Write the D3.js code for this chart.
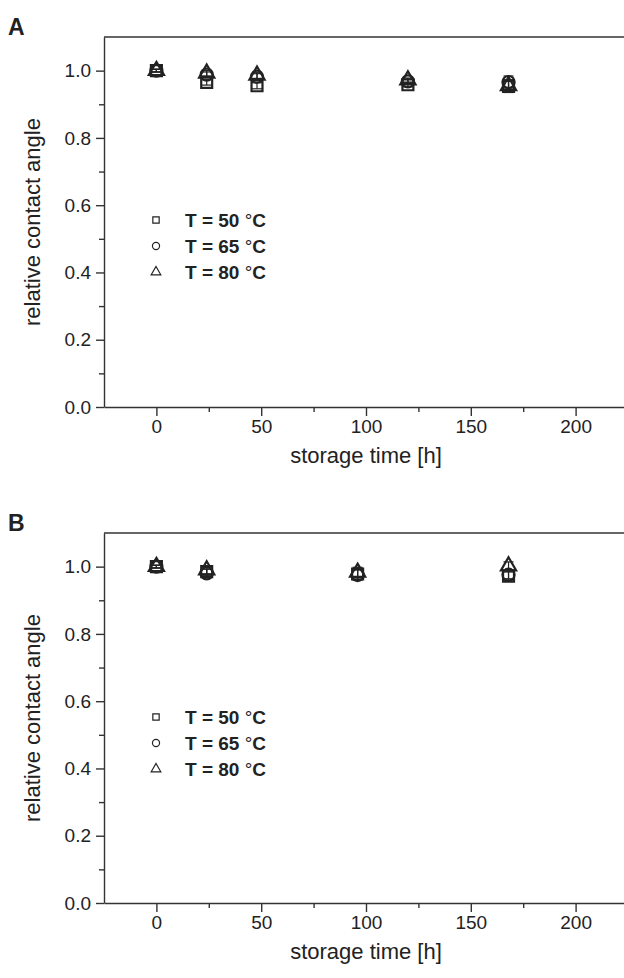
<!DOCTYPE html>
<html>
<head>
<meta charset="utf-8">
<script src="https://cdn.jsdelivr.net/npm/d3@7"></script>
<style>
  body { margin: 0; background: #fff; }
  svg { display: block; font-family: "Liberation Sans", Arial, sans-serif; }
</style>
</head>
<body>
<div id="chart"></div>
<script>
// panel A data
var timeA = [0, 24, 48, 120, 168];
var t50A = [1.0, 0.965, 0.955, 0.958, 0.953];
var t65A = [1.0, 0.988, 0.982, 0.968, 0.966];
var t80A = [1.0, 0.992, 0.986, 0.972, 0.955];
var errA = [0.004, 0.008, 0.009, 0.006, 0.018];

// panel B data
var timeB = [0, 24, 96, 168];
var t50B = [1.0, 0.985, 0.978, 0.972];
var t65B = [1.0, 0.980, 0.975, 0.976];
var t80B = [1.0, 0.990, 0.983, 1.002];
var errB = [0.004, 0.012, 0.015, 0.012];

var legendLabels = ["50", "65", "80"];
var xTicks = [0, 50, 100, 150, 200];
var yTicks = [0.0, 0.2, 0.4, 0.6, 0.8, 1.0];

var svgWidth = 624;
var svgHeight = 978;
var ink = "#222";

var svg = d3.select("#chart")
  .append("svg")
  .attr("width", svgWidth)
  .attr("height", svgHeight);

var symbols = [d3.symbolSquare, d3.symbolCircle, d3.symbolTriangle];
var symSize = [120, 115, 100];

function drawPanel(top, letter, time, series, err, legendTop) {
  var plotLeft = 104, plotTop = 37, plotBottom = 407;

  var g = svg.append("g")
    .attr("transform", `translate(0, ${top})`);

  // plot runs past the right edge of the picture (cropped like the original)
  var x = d3.scaleLinear().domain([-25, 225]).range([plotLeft, plotLeft + 524]);
  var y = d3.scaleLinear().domain([0, 1.1]).range([plotBottom, plotTop]);

  // panel letter
  g.append("text")
    .attr("x", 8)
    .attr("y", 35)
    .attr("font-size", "23px")
    .attr("font-weight", "bold")
    .attr("fill", ink)
    .text(letter);

  // minor ticks
  g.append("g")
    .attr("transform", `translate(${plotLeft}, 0)`)
    .call(d3.axisLeft(y).tickValues(d3.range(0.1, 1.01, 0.2)).tickSize(5).tickFormat(""))
    .call(a => a.select(".domain").remove());
  g.append("g")
    .attr("transform", `translate(0, ${plotBottom})`)
    .call(d3.axisBottom(x).tickValues([25, 75, 125, 175]).tickSize(5).tickFormat(""))
    .call(a => a.select(".domain").remove());

  var leftAxis = g.append("g")
    .attr("transform", `translate(${plotLeft}, 0)`)
    .call(d3.axisLeft(y).tickValues(yTicks).tickSize(8).tickPadding(5).tickFormat(d3.format(".1f")).tickSizeOuter(0));

  var bottomAxis = g.append("g")
    .attr("transform", `translate(0, ${plotBottom})`)
    .call(d3.axisBottom(x).tickValues(xTicks).tickSize(9).tickPadding(4).tickSizeOuter(0));

  [leftAxis, bottomAxis].forEach(function(a) {
    a.selectAll("path, line").attr("stroke", "#333").attr("stroke-width", 1.4);
    a.selectAll("text").attr("font-size", "19px").attr("fill", ink)
      .attr("font-family", "Liberation Sans, Arial, sans-serif");
  });
  g.selectAll(".tick line").attr("stroke", "#333").attr("stroke-width", 1.4);

  // top frame line
  g.append("line")
    .attr("x1", plotLeft).attr("x2", svgWidth + 60)
    .attr("y1", plotTop).attr("y2", plotTop)
    .attr("stroke", "#333").attr("stroke-width", 1.4);

  // axis titles
  g.append("text")
    .attr("transform", "rotate(-90)")
    .attr("x", -(plotTop + plotBottom) / 2)
    .attr("y", 40)
    .attr("text-anchor", "middle")
    .attr("font-size", "22px")
    .attr("fill", ink)
    .text("relative contact angle");

  g.append("text")
    .attr("x", x(100))
    .attr("y", plotBottom + 56)
    .attr("text-anchor", "middle")
    .attr("font-size", "22px")
    .attr("fill", ink)
    .text("storage time [h]");

  // error bars + markers
  series.forEach(function(vals, si) {
    var pts = time.map((t, i) => ({t: t, v: vals[i], e: err[i]}));
    var eb = g.append("g");
    pts.forEach(function(p) {
      if (p.e <= 0) return;
      eb.append("line")
        .attr("x1", x(p.t)).attr("x2", x(p.t))
        .attr("y1", y(p.v - p.e)).attr("y2", y(p.v + p.e))
        .attr("stroke", ink).attr("stroke-width", 1.2);
      [p.v - p.e, p.v + p.e].forEach(function(ev) {
        eb.append("line")
          .attr("x1", x(p.t) - 5).attr("x2", x(p.t) + 5)
          .attr("y1", y(ev)).attr("y2", y(ev))
          .attr("stroke", ink).attr("stroke-width", 1.2);
      });
    });
    g.selectAll(null)
      .data(pts)
      .enter()
      .append("path")
      .attr("d", d3.symbol().type(symbols[si]).size(symSize[si]))
      .attr("transform", d => `translate(${x(d.t)}, ${y(d.v)})`)
      .attr("fill", "none")
      .attr("stroke", ink)
      .attr("stroke-width", 2.2);
  });

  // legend
  legendLabels.forEach(function(lab, i) {
    var ly = legendTop + i * 26;
    g.append("path")
      .attr("d", d3.symbol().type(symbols[i]).size(40))
      .attr("transform", `translate(156, ${ly})`)
      .attr("fill", "none")
      .attr("stroke", ink)
      .attr("stroke-width", 1.2);
    var t = g.append("text")
      .attr("x", 185)
      .attr("y", ly + 7)
      .attr("font-size", "19px")
      .attr("font-weight", "bold")
      .attr("fill", ink);
    t.append("tspan").text("T = " + lab + " ");
    t.append("tspan").attr("font-weight", "normal").text("°");
    t.append("tspan").text("C");
  });
}

drawPanel(0, "A", timeA, [t50A, t65A, t80A], errA, 220);
drawPanel(496, "B", timeB, [t50B, t65B, t80B], errB, 221);
</script>
</body>
</html>
